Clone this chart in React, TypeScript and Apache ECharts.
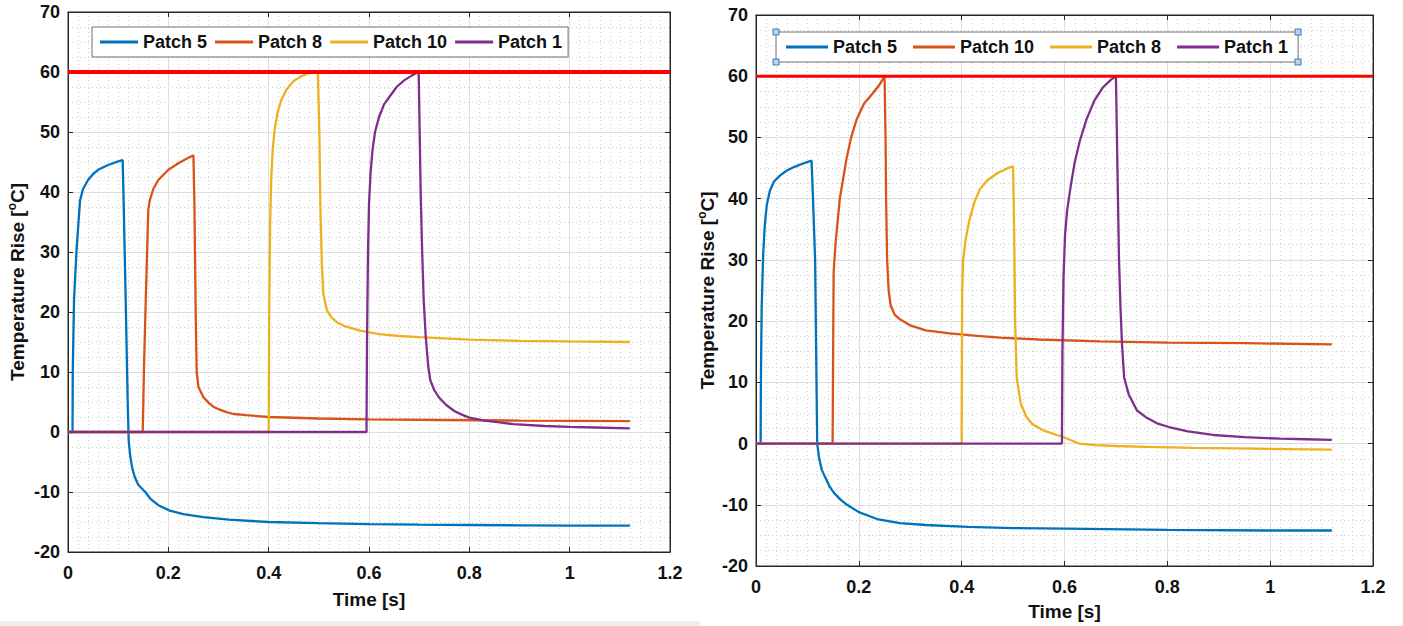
import React, { useEffect, useRef } from "react";
import * as echarts from "echarts";

// ---------- data (time [s], temperature rise [°C]) ----------
const xTicks = [0, 0.2, 0.4, 0.6, 0.8, 1, 1.2];
const yTicks = [-20, -10, 0, 10, 20, 30, 40, 50, 60, 70];
const limitLine = [[0, 60], [1.2, 60]];

// Left chart
const leftNames = ["Patch 5", "Patch 8", "Patch 10", "Patch 1"];
const leftPatch5 = [
  [0, 0], [0.009, 0], [0.0095, 10], [0.012, 22], [0.017, 30.3], [0.024, 38.6], [0.03, 40.5],
  [0.04, 42], [0.05, 43], [0.06, 43.7], [0.08, 44.5], [0.1, 45.1], [0.109, 45.3],
  [0.111, 38], [0.115, 22], [0.119, 5], [0.121, -1.5], [0.124, -4], [0.128, -6],
  [0.133, -7.5], [0.14, -8.8], [0.154, -10], [0.165, -11.2], [0.18, -12.2], [0.203, -13.1],
  [0.23, -13.7], [0.27, -14.2], [0.32, -14.6], [0.4, -15.0], [0.5, -15.2], [0.6, -15.35],
  [0.7, -15.45], [0.8, -15.5], [0.9, -15.55], [1.0, -15.6], [1.12, -15.6],
];
const leftPatch8 = [
  [0, 0], [0.149, 0], [0.1515, 10.9], [0.155, 22], [0.16, 37], [0.163, 38.6], [0.17, 40.5],
  [0.18, 42], [0.2, 43.7], [0.22, 44.8], [0.24, 45.7], [0.25, 46.1],
  [0.252, 38], [0.2545, 20], [0.2565, 10], [0.26, 7.5], [0.27, 5.8], [0.28, 4.9], [0.29, 4.2],
  [0.3, 3.8], [0.316, 3.3], [0.33, 3.0], [0.356, 2.8], [0.4, 2.5], [0.5, 2.25], [0.6, 2.1],
  [0.75, 2.0], [0.9, 1.9], [1.12, 1.8],
];
const leftPatch10 = [
  [0, 0], [0.4, 0], [0.401, 20], [0.403, 35], [0.405, 42], [0.408, 47], [0.412, 50.5],
  [0.418, 53.3], [0.425, 55.3], [0.435, 57], [0.45, 58.5], [0.465, 59.3], [0.48, 59.8], [0.498, 60],
  [0.501, 50], [0.503, 38], [0.506, 28], [0.509, 23], [0.516, 20.3], [0.525, 19.1], [0.536, 18.3],
  [0.55, 17.7], [0.582, 16.9], [0.62, 16.3], [0.66, 16.0], [0.7, 15.8], [0.8, 15.4], [0.9, 15.2],
  [1.0, 15.1], [1.12, 15.0],
];
const leftPatch1 = [
  [0, 0], [0.595, 0], [0.596, 15], [0.598, 30], [0.6, 38], [0.603, 43], [0.607, 47], [0.612, 50],
  [0.62, 52.5], [0.63, 54.6], [0.642, 56], [0.655, 57.5], [0.67, 58.6], [0.685, 59.4], [0.699, 60],
  [0.701, 50], [0.703, 40], [0.706, 30], [0.709, 22], [0.713, 16], [0.718, 11], [0.722, 8.7],
  [0.73, 7], [0.74, 5.7], [0.754, 4.5], [0.77, 3.5], [0.785, 2.9], [0.8, 2.4], [0.83, 1.9],
  [0.86, 1.6], [0.888, 1.3], [0.95, 1.0], [1.0, 0.85], [1.05, 0.75], [1.12, 0.6],
];

// Right chart
const rightNames = ["Patch 5", "Patch 10", "Patch 8", "Patch 1"];
const rightPatch5 = [
  [0, 0], [0.009, 0], [0.0095, 10], [0.011, 22], [0.014, 31], [0.017, 35.5], [0.021, 39],
  [0.027, 41.3], [0.035, 42.8], [0.047, 43.8], [0.06, 44.6], [0.075, 45.2], [0.09, 45.7],
  [0.108, 46.2], [0.11, 42], [0.115, 30], [0.117, 15], [0.119, 0], [0.123, -2.5], [0.128, -4.3],
  [0.134, -5.4], [0.143, -7], [0.152, -8.1], [0.165, -9.2], [0.177, -10], [0.2, -11.2],
  [0.238, -12.4], [0.28, -13], [0.33, -13.3], [0.412, -13.6], [0.5, -13.8], [0.603, -13.9],
  [0.8, -14.1], [1.0, -14.2], [1.12, -14.2],
];
const rightPatch10 = [
  [0, 0], [0.149, 0], [0.15, 15], [0.151, 28], [0.155, 33], [0.163, 40], [0.17, 43.5],
  [0.176, 46.5], [0.185, 50], [0.196, 53], [0.21, 55.5], [0.228, 57.3], [0.24, 58.6], [0.25, 60],
  [0.252, 50], [0.253, 40], [0.255, 30], [0.258, 25], [0.262, 22.5], [0.27, 21], [0.28, 20.3],
  [0.3, 19.3], [0.33, 18.5], [0.377, 18.0], [0.43, 17.6], [0.475, 17.3], [0.55, 17.0],
  [0.669, 16.7], [0.8, 16.5], [0.95, 16.4], [1.12, 16.2],
];
const rightPatch8 = [
  [0, 0], [0.4, 0], [0.4005, 15], [0.401, 25], [0.403, 30], [0.408, 33.5], [0.415, 36.5],
  [0.425, 39.5], [0.436, 41.6], [0.45, 43], [0.47, 44.2], [0.49, 45], [0.5, 45.3],
  [0.502, 35], [0.504, 20], [0.507, 10.8], [0.515, 6.5], [0.525, 4.5], [0.537, 3.2], [0.56, 2.1],
  [0.585, 1.4], [0.6, 1.0], [0.628, 0], [0.66, -0.25], [0.7, -0.4], [0.758, -0.54], [0.85, -0.7],
  [0.933, -0.8], [1.03, -0.9], [1.12, -1.0],
];
const rightPatch1 = [
  [0, 0], [0.595, 0], [0.596, 15], [0.598, 27], [0.601, 34], [0.605, 38], [0.612, 42],
  [0.62, 46], [0.63, 49.5], [0.643, 53], [0.658, 56], [0.675, 58.2], [0.69, 59.4], [0.7, 60],
  [0.702, 50], [0.704, 40], [0.706, 30], [0.709, 22], [0.712, 16], [0.716, 10.8], [0.725, 8],
  [0.741, 5.4], [0.76, 4.2], [0.78, 3.3], [0.803, 2.7], [0.84, 2.0], [0.889, 1.4], [0.95, 1.05],
  [1.019, 0.8], [1.07, 0.7], [1.12, 0.6],
];

// ---------- styling ----------
const FONT = '"Liberation Sans", Arial, Helvetica, sans-serif';
const BLUE = "#0072BD";
const ORANGE = "#D95319";
const YELLOW = "#EDB120";
const PURPLE = "#7E2F8E";
const RED = "#FF0000";
const AX = "#262626";

function makeAxes(gridIndex: number, nameGapX: number, nameGapY: number, labelMarginX: number) {
  const common = {
    gridIndex,
    type: "value" as const,
    axisLine: { show: true, onZero: false, lineStyle: { color: AX, width: 1 } },
    axisTick: { show: true, inside: true, length: 5, lineStyle: { color: AX, width: 1 } },
  };
  const labelStyle = { fontSize: 18, fontWeight: "bold", color: "#111", fontFamily: FONT };
  const nameStyle = { fontSize: 19, fontWeight: "bold", color: "#111", fontFamily: FONT };
  const xs = [
    {
      ...common,
      position: "bottom",
      min: xTicks[0],
      max: xTicks[xTicks.length - 1],
      interval: xTicks[1] - xTicks[0],
      name: "Time [s]",
      nameLocation: "middle",
      nameGap: nameGapX,
      nameTextStyle: nameStyle,
      axisLabel: { ...labelStyle, margin: labelMarginX },
      splitLine: { show: true, lineStyle: { color: "#dedede", width: 1 } },
      minorTick: { show: false, splitNumber: 10 },
      minorSplitLine: { show: true, lineStyle: { color: "#cfcfcf", width: 1, type: [1, 3] } },
    },
    {
      ...common,
      position: "top",
      min: xTicks[0],
      max: xTicks[xTicks.length - 1],
      interval: xTicks[1] - xTicks[0],
      axisLabel: { show: false },
      splitLine: { show: false },
    },
  ];
  const ys = [
    {
      ...common,
      position: "left",
      min: yTicks[0],
      max: yTicks[yTicks.length - 1],
      interval: yTicks[1] - yTicks[0],
      name: "Temperature Rise [{sup|o}C]",
      nameLocation: "middle",
      nameGap: nameGapY,
      nameTextStyle: {
        ...nameStyle,
        rich: {
          sup: { fontSize: 12, fontWeight: "bold", color: "#111", fontFamily: FONT, verticalAlign: "top", lineHeight: 22 },
        },
      },
      axisLabel: { ...labelStyle, margin: 8 },
      splitLine: { show: true, lineStyle: { color: "#dedede", width: 1 } },
      minorTick: { show: false, splitNumber: 4 },
      minorSplitLine: { show: true, lineStyle: { color: "#cfcfcf", width: 1, type: [1, 3] } },
    },
    {
      ...common,
      position: "right",
      min: yTicks[0],
      max: yTicks[yTicks.length - 1],
      interval: yTicks[1] - yTicks[0],
      axisLabel: { show: false },
      splitLine: { show: false },
    },
  ];
  return { xs, ys };
}

function lineSeries(id: string, data: number[][], color: string, axisBase: number, width = 2.3, z = 3) {
  return {
    id,
    name: id,
    type: "line",
    data,
    xAxisIndex: axisBase,
    yAxisIndex: axisBase,
    symbol: "none",
    showSymbol: false,
    color,
    itemStyle: { color },
    lineStyle: { color, width },
    z,
    silent: true,
  };
}

function legendFor(prefix: string, names: string[], left: number, top: number, itemWidth: number, itemGap: number, padding: number[]) {
  return {
    left,
    top,
    orient: "horizontal",
    data: names.map((n) => prefix + n),
    formatter: (n: string) => n.slice(prefix.length),
    icon: "rect",
    itemWidth,
    itemHeight: 3,
    itemGap,
    padding,
    backgroundColor: "#ffffff",
    borderColor: "#6e6e6e",
    borderWidth: 1,
    borderRadius: 0,
    selectedMode: false,
    textStyle: { fontSize: 18, fontWeight: "bold", color: "#111", fontFamily: FONT },
  };
}

function handle(x: number, y: number) {
  return {
    type: "rect",
    shape: { x: x - 3, y: y - 3, width: 6, height: 6 },
    style: { fill: "#b7d3ee", stroke: "#3a78b8", lineWidth: 1 },
    z: 100,
  };
}

export default function App() {
  const ref = useRef<HTMLDivElement>(null);

  useEffect(() => {
    if (!ref.current) return;
    const chart = echarts.init(ref.current, undefined, { renderer: "svg" });
    const a = makeAxes(0, 38, 40, 12);
    const b = makeAxes(1, 36, 38, 12);

    const colors = [BLUE, ORANGE, YELLOW, PURPLE];
    const leftData = [leftPatch5, leftPatch8, leftPatch10, leftPatch1];
    const rightData = [rightPatch5, rightPatch10, rightPatch8, rightPatch1];

    const series: any[] = [];
    leftNames.forEach((n, i) => series.push(lineSeries("L:" + n, leftData[i], colors[i], 0)));
    series.push(lineSeries("L:limit", limitLine, RED, 0, 4, 5));
    rightNames.forEach((n, i) => series.push(lineSeries("R:" + n, rightData[i], colors[i], 2)));
    series.push(lineSeries("R:limit", limitLine, RED, 2, 3, 5));

    const option: any = {
      animation: false,
      backgroundColor: "#ffffff",
      textStyle: { fontFamily: FONT },
      grid: [
        { left: 68, top: 12, width: 602, height: 540, show: true, borderColor: AX, borderWidth: 1, backgroundColor: "#fff" },
        { left: 756, top: 15, width: 617, height: 555, show: true, borderColor: AX, borderWidth: 1, backgroundColor: "#fff" },
      ],
      xAxis: [...a.xs, ...b.xs],
      yAxis: [...a.ys, ...b.ys],
      legend: [
        legendFor("L:", leftNames, 92, 27, 38, 8, [6, 6, 6, 8]),
        legendFor("R:", rightNames, 776, 32, 42, 16, [6, 10, 6, 10]),
      ],
      series,
      graphic: [
        { type: "rect", shape: { x: 0, y: 621, width: 700, height: 5 }, style: { fill: "#efefef" }, silent: true },
        handle(776, 32),
        handle(1298, 32),
        handle(776, 62),
        handle(1298, 62),
      ],
    };
    chart.setOption(option);
    return () => chart.dispose();
  }, []);

  return (
    <div
      ref={ref}
      style={{ position: "absolute", left: 0, top: 0, width: 1403, height: 626, background: "#fff" }}
    />
  );
}
